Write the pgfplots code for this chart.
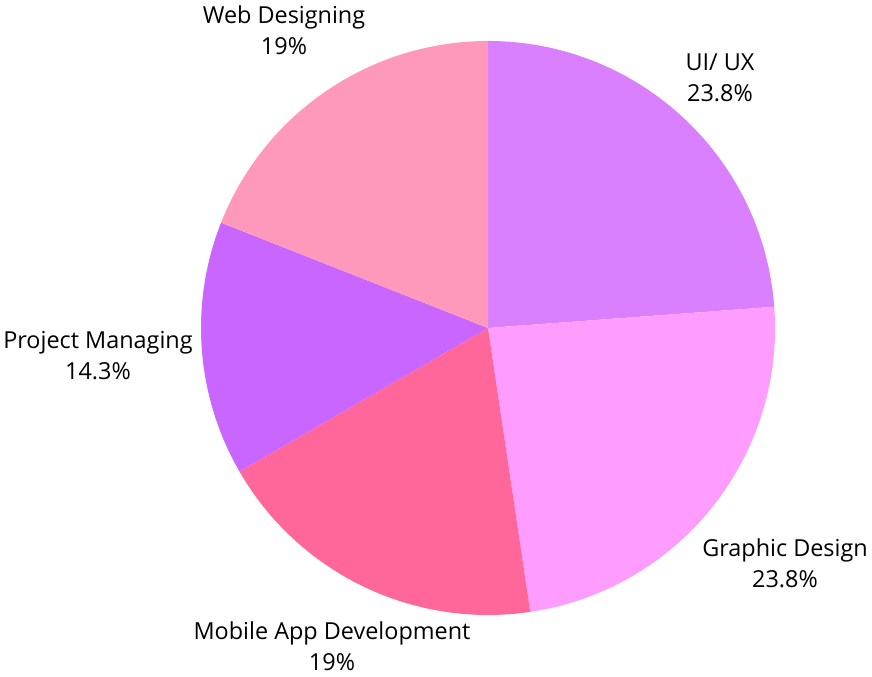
\documentclass[border=0pt]{standalone}
\usepackage{pgfplots}
\pgfplotsset{compat=1.18}
\usepackage{fontspec}
\setmainfont{Open Sans}
\definecolor{cUI}{HTML}{DA80FF}
\definecolor{cGD}{HTML}{FF9CFF}
\definecolor{cMA}{HTML}{FF6699}
\definecolor{cPM}{HTML}{C866FF}
\definecolor{cWD}{HTML}{FF99BB}
\tikzset{lbl/.style={font=\fontsize{23.5}{31}\selectfont, align=center, inner sep=0pt}}
% data (percent)
\def\vUI{23.8}\def\vGD{23.8}\def\vMA{19}\def\vPM{14.3}\def\vWD{19}
\pgfmathsetmacro\tot{\vUI+\vGD+\vMA+\vPM+\vWD}
\pgfmathsetmacro\aA{90}
\pgfmathsetmacro\aB{\aA-360*\vUI/\tot}
\pgfmathsetmacro\aC{\aB-360*\vGD/\tot}
\pgfmathsetmacro\aD{\aC-360*\vMA/\tot}
\pgfmathsetmacro\aE{\aD-360*\vPM/\tot}
\pgfmathsetmacro\aF{\aE-360*\vWD/\tot}
\newcommand\slice[3]{\fill[#3] (axis cs:488,349) -- ++(#1:287bp) arc[start angle=#1, end angle=#2, radius=287bp] -- cycle;}
\begin{document}
\begin{tikzpicture}
\begin{axis}[x=1bp,y=1bp,xmin=0,xmax=872,ymin=0,ymax=677,hide axis,clip=false]
\addplot[draw=none] coordinates {(0,0) (872,677)};
\slice{\aA}{\aB}{cUI}
\slice{\aB}{\aC}{cGD}
\slice{\aC}{\aD}{cMA}
\slice{\aD}{\aE}{cPM}
\slice{\aE}{\aF}{cWD}
\node[lbl] at (axis cs:284,647) {Web Designing\\19\%};
\node[lbl] at (axis cs:720,599) {UI/ UX\\23.8\%};
\node[lbl] at (axis cs:98,321) {Project Managing\\14.3\%};
\node[lbl] at (axis cs:785,114) {Graphic Design\\23.8\%};
\node[lbl] at (axis cs:332,31) {Mobile App Development\\19\%};
\end{axis}
\end{tikzpicture}
\end{document}
